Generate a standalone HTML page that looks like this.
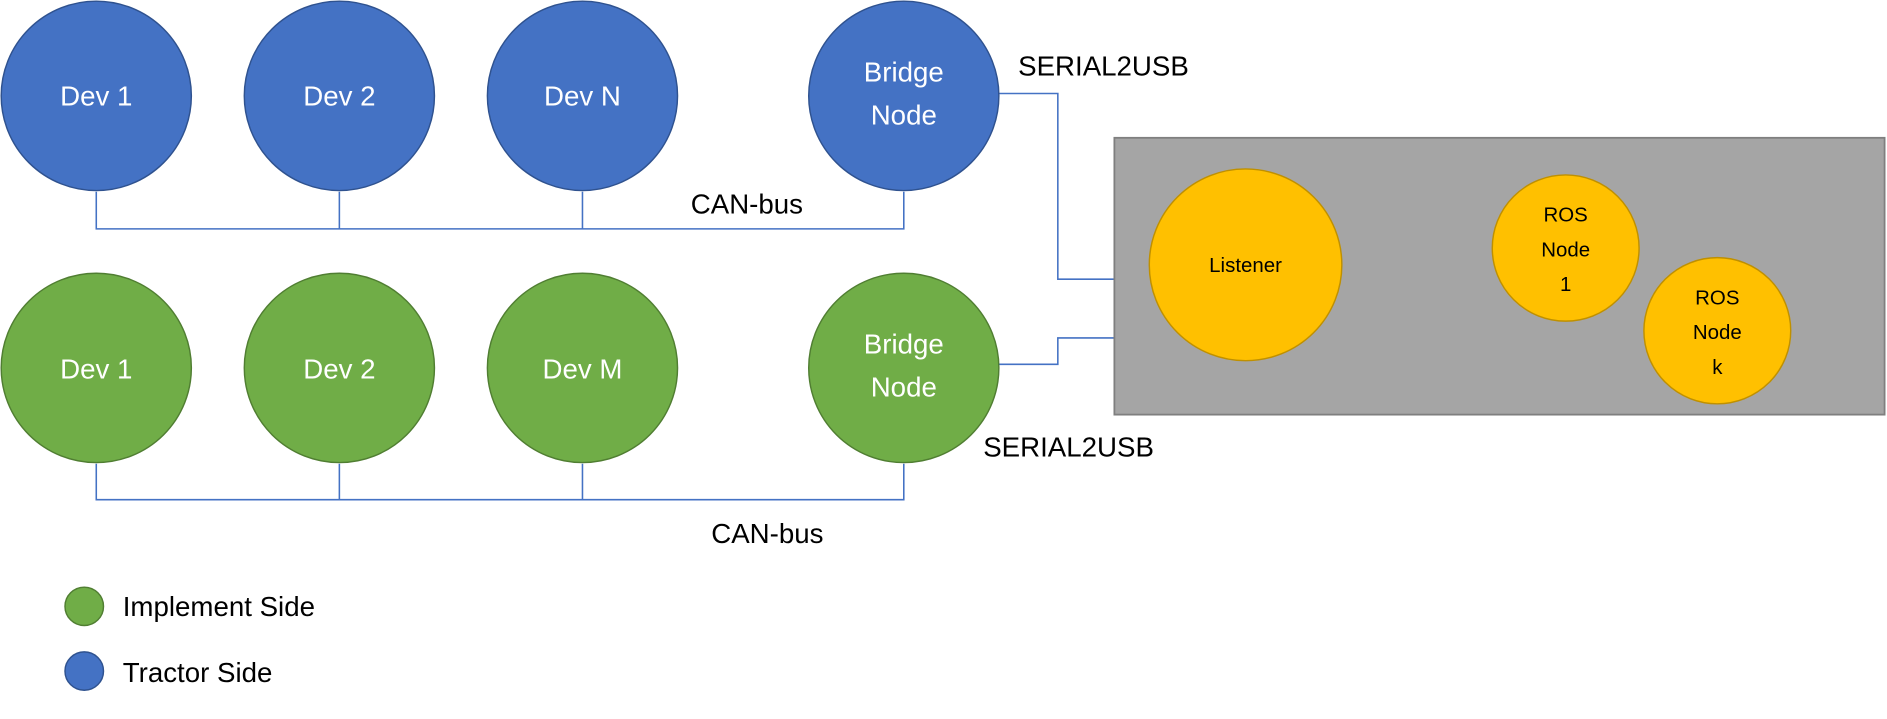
<!DOCTYPE html>
<html><head><meta charset="utf-8"><style>html,body{margin:0;padding:0;background:#fff;}svg{display:block}</style></head>
<body>
<svg width="1887" height="719" viewBox="0 0 1568 600" preserveAspectRatio="none" xmlns="http://www.w3.org/2000/svg" font-family="Liberation Sans, sans-serif">
<g fill="none" stroke="#4472c4" stroke-width="1.3">
<polyline points="80,160 80,191 751,191 751,160"/>
<line x1="282" y1="160" x2="282" y2="191"/><line x1="484" y1="160" x2="484" y2="191"/>
<polyline points="80,387 80,417 751,417 751,387"/>
<line x1="282" y1="387" x2="282" y2="417"/><line x1="484" y1="387" x2="484" y2="417"/>
<polyline points="830,78 879,78 879,233 926,233"/>
<polyline points="830,304 879,304 879,282 926,282"/>
</g>
<g fill="#4472c4" stroke="#2f528f" stroke-width="1.2">
<circle cx="80" cy="80" r="79"/><circle cx="282" cy="80" r="79"/><circle cx="484" cy="80" r="79"/><circle cx="751" cy="80" r="79"/>
<circle cx="70" cy="560" r="16"/>
</g>
<g fill="#70ad47" stroke="#507e32" stroke-width="1.2">
<circle cx="80" cy="307" r="79"/><circle cx="282" cy="307" r="79"/><circle cx="484" cy="307" r="79"/><circle cx="751" cy="307" r="79"/>
<circle cx="70" cy="506" r="16"/>
</g>
<rect x="926" y="115" width="640" height="231" fill="#a5a5a5" stroke="#7f7f7f" stroke-width="1.5"/>
<g fill="#ffc000" stroke="#bf9000" stroke-width="1.2">
<circle cx="1035" cy="221" r="80"/><circle cx="1301" cy="207" r="61"/><circle cx="1427" cy="276" r="61"/>
</g>
<g fill="#fff" font-size="23" text-anchor="middle">
<text x="80" y="88">Dev 1</text><text x="282" y="88">Dev 2</text><text x="484" y="88">Dev N</text>
<text x="751" y="68">Bridge</text><text x="751" y="104">Node</text>
<text x="80" y="316">Dev 1</text><text x="282" y="316">Dev 2</text><text x="484" y="316">Dev M</text>
<text x="751" y="295">Bridge</text><text x="751" y="331">Node</text>
</g>
<g fill="#000" font-size="17" text-anchor="middle">
<text x="1035" y="227">Listener</text>
<text x="1301" y="185">ROS</text><text x="1301" y="214">Node</text><text x="1301" y="243">1</text>
<text x="1427" y="254">ROS</text><text x="1427" y="283">Node</text><text x="1427" y="312">k</text>
</g>
<g fill="#000" font-size="23">
<text x="846" y="63">SERIAL2USB</text>
<text x="574" y="178">CAN-bus</text>
<text x="817" y="381">SERIAL2USB</text>
<text x="591" y="453">CAN-bus</text>
<text x="102" y="514">Implement Side</text>
<text x="102" y="569">Tractor Side</text>
</g>
</svg>
</body></html>
